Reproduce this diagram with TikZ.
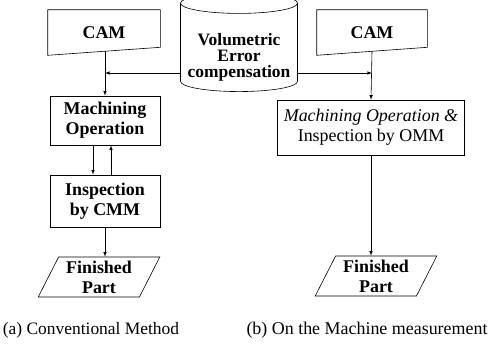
\documentclass[tikz,border=0pt]{standalone}
\usepackage{fontspec}
\setmainfont{Liberation Serif}
\usetikzlibrary{arrows,shapes,calc}

\newcommand{\boxfont}{\fontsize{18}{20}\selectfont\bfseries}
\newcommand{\capfont}{\fontsize{17.5}{20}\selectfont}

\tikzset{
  procbox/.style={draw,rectangle,align=center,inner sep=0pt,font=\boxfont},
  camtext/.style={rectangle,minimum width=112bp,minimum height=45bp,inner sep=0pt,font=\boxfont},
  partbox/.style={draw,trapezium,trapezium left angle=63,trapezium right angle=117,
    minimum width=112bp,minimum height=40bp,inner sep=0pt,align=center,font=\boxfont},
}

\begin{document}
\begin{tikzpicture}[>=latex,line width=0.6pt,x=1bp,y=1bp]
\useasboundingbox (0,0) rectangle (496,-345);

% (a) conventional chain
\node (camL) at (104,-32.5) [camtext] {CAM};
\draw (camL.north west) -- (camL.north east) -- ($(camL.south east)+(0,8)$) -- (camL.south west) -- cycle;
\node (machL) at (105,-120.5) [procbox,minimum width=110bp,minimum height=49bp] {Machining\\Operation};
\node (inspL) at (105,-201) [procbox,minimum width=110bp,minimum height=52bp] {Inspection\\by CMM};
\node (finL) at (99,-277) [partbox] {Finished\\Part};

% error compensation data base (strut pushes the text below the lid)
\node (vec) at (239,-47.5) [draw,cylinder,shape border rotate=90,aspect=0.2,
  minimum width=117bp,minimum height=85bp,inner sep=0pt,align=center,
  font=\fontsize{17.5}{16}\selectfont\bfseries] {\rule{0pt}{32bp}Volumetric\\Error\\compensation};

% (b) on the machine chain
\node (camR) at (372,-32.5) [camtext,minimum width=110bp] {CAM};
\draw (camR.north west) -- (camR.north east) -- ($(camR.south east)+(0,8)$) -- (camR.south west) -- cycle;
\node (mopR) at (371,-127.5) [procbox,minimum width=187bp,minimum height=55bp,font=\fontsize{18}{20}\selectfont]
  {\itshape Machining Operation \&\\Inspection by OMM};
\node (finR) at (376,-276) [partbox,minimum width=110bp] {Finished\\Part};

\coordinate (jL) at (105,-73);
\coordinate (jR) at (372,-73);

% connectors
\draw [->] ($(camL.south)+(1,4)$) -- (machL.north);
\draw [->] (vec.west |- jL) -- (jL);
\draw [->] ([xshift=-12bp]machL.south) -- ([xshift=-12bp]inspL.north);
\draw [->] ([xshift=6bp]inspL.north) -- ([xshift=6bp]machL.south);
\draw [->] (inspL.south) -- (inspL.south |- finL.north);

\draw [->] ($(camR.south)+(0,4)$) -- (mopR.north);
\draw [->] (vec.east |- jR) -- (jR);
\draw [->] (mopR.south) -- (mopR.south |- finR.north);

% captions
\node (capA) at (91,-330) [font=\capfont] {(a) Conventional Method};
\node (capB) at (367,-330) [font=\fontsize{18}{20}\selectfont] {(b) On the Machine measurement};
\end{tikzpicture}
\end{document}
